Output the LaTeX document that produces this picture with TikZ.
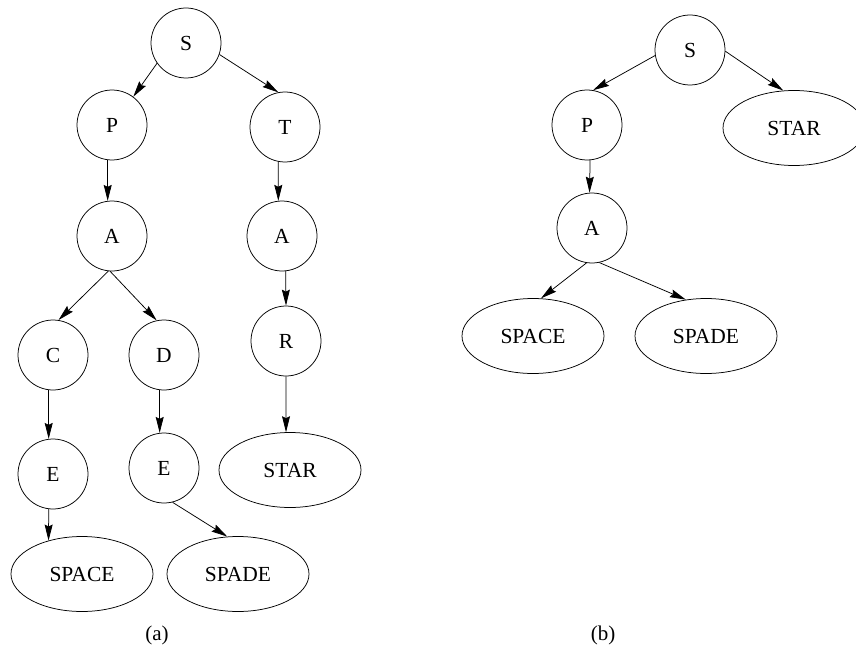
\documentclass[tikz,border=0pt]{standalone}
\usepackage{fontspec}
\setmainfont{Liberation Serif}
\usetikzlibrary{shapes.geometric,arrows.meta}
\begin{document}
\begin{tikzpicture}[x=1pt,y=-1pt,
  every node/.style={font=\fontsize{21.5}{24}\selectfont},
  circ/.style={draw,circle,line width=0.75pt,minimum size=70pt,inner sep=0pt},
  ell/.style={draw,ellipse,line width=0.75pt,minimum width=142pt,minimum height=75pt,inner sep=0pt},
  arr/.style={line width=0.75pt,-{Stealth[length=16pt,width=8pt,inset=2pt]}},
  lab/.style={font=\fontsize{21}{23}\selectfont}]
\useasboundingbox (0,0) rectangle (856,650);
% tree (a)
\node[circ] (aS) at (186,43) {S};
\node[circ] (aP) at (112,125) {P};
\node[circ] (aT) at (285,127) {T};
\node[circ] (aA1) at (112,236) {A};
\node[circ] (aA2) at (282,236) {A};
\node[circ] (aC) at (53,355) {C};
\node[circ] (aD) at (164,355) {D};
\node[circ] (aR) at (286,341) {R};
\node[circ] (aE1) at (53,474) {E};
\node[circ] (aE2) at (164,468) {E};
\node[ell] (aSTAR) at (290,470) {STAR};
\node[ell] (aSPACE) at (82,574) {SPACE};
\node[ell] (aSPADE) at (238,574) {SPADE};
\node[lab] (la) at (157,635) {(a)};
\draw[arr] (aS.215) -- (aP.53);
\draw[arr] (aS.-19) -- (aT.101);
\draw[arr] (aP.-97) -- (aA1.97);
\draw[arr] (aT.-101) -- (aA2.96);
\draw[arr] (aA1.-96) -- (aC.81);
\draw[arr] (aA1.-93) -- (aD.102);
\draw[arr] (aA2.-84) -- (aR.90);
\draw[arr] (aC.-97) -- (aE1.97);
\draw[arr] (aD.-97) -- (aE2.97);
\draw[arr] (aR.-90) -- (aSTAR.96);
\draw[arr] (aE1.-97) -- (aSPACE.135);
\draw[arr] (aE2.-76) -- (aSPADE.106);
% tree (b)
\node[circ] (bS) at (690,50) {S};
\node[circ] (bP) at (587,125) {P};
\node[ell] (bSTAR) at (794,128) {STAR};
\node[circ] (bA) at (592,228) {A};
\node[ell] (bSPACE) at (533,336) {SPACE};
\node[ell] (bSPADE) at (706,336) {SPADE};
\node[lab] (lb) at (603,635) {(b)};
\draw[arr] (bS.189) -- (bP.80);
\draw[arr] (bS.-2) -- (bSTAR.106);
\draw[arr] (bP.-85) -- (bA.94);
\draw[arr] (bA.-99) -- (bSPACE.78);
\draw[arr] (bA.-78) -- (bSPADE.119);
\end{tikzpicture}
\end{document}
